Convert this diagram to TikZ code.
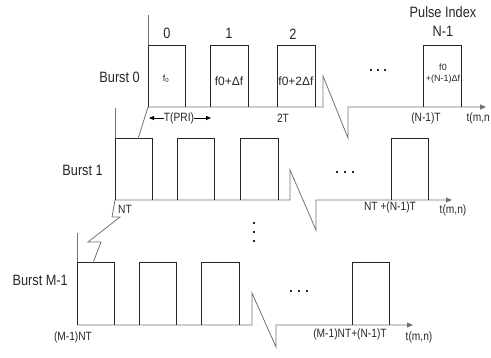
\documentclass[tikz,border=0pt]{standalone}
\usepackage{fontspec}
\setmainfont{Liberation Sans}[FakeStretch=0.85]
\newfontfamily\plainsans{Liberation Sans}
\usetikzlibrary{arrows.meta}
\begin{document}
\begin{tikzpicture}[x=1pt,y=-1pt,
  axis/.style={draw=black!55, line width=0.8pt},
  pulse/.style={draw=black!85, line width=1pt},
  big/.style={font=\fontsize{15}{16}\selectfont, inner sep=0pt, text=black!85},
  small/.style={font=\fontsize{12}{13}\selectfont, inner sep=0pt, text=black!85},
  plab/.style={font=\plainsans\fontsize{12}{13}\selectfont, inner sep=0pt, text=black!85},
  tiny/.style={font=\plainsans\fontsize{9}{10}\selectfont, inner sep=0pt, text=black!85},
  tip/.style={-{Triangle[length=6pt,width=5pt]}, draw=black!55, line width=0.8pt},
  dotf/.style={fill=black!85}]
\useasboundingbox (0,0) rectangle (491,358);

% ---------- Burst 0 ----------
\coordinate (o0) at (148,107);
\draw[axis] (148,15) -- (o0);
\draw[tip] (o0) -- (323,107) -- (323,76) -- (348,138) -- (348,107) -- (486,107);
\foreach \a/\b in {148/185,210/248,277/315,423/461}
  \draw[pulse] (\a,107) |- (\b,46) -- (\b,107);

% ---------- Burst 1 ----------
\coordinate (o1) at (115,200);
\coordinate (l1) at (138,139);
\draw[axis] (115,108) -- (o1);
\draw[tip] (o1) -- (290,200) -- (290,170) -- (316,230) -- (316,200) -- (452,200);
\foreach \a/\b in {115/152,177/214,240/278,391/428}
  \draw[pulse] (\a,200) |- (\b,139) -- (\b,200);
\draw[axis] (o0) -- (l1);

% ---------- Burst M-1 ----------
\coordinate (o2) at (77,325);
\coordinate (l2) at (93,263);
\draw[axis] (77,233) -- (o2);
\draw[tip] (o2) -- (252,325) -- (252,293) -- (276,347) -- (276,325) -- (413,325);
\foreach \a/\b in {77/114,139/176,201/239,352/389}
  \draw[pulse] (\a,325) |- (\b,263) -- (\b,325);
\draw[axis] (o1) -- (112,217) -- (120,217) -- (88,242) -- (101,242) -- (l2);

% ---------- labels, burst 0 ----------
\node[big] (i0) at (167,33) {0};
\node[big] (i1) at (229,33) {1};
\node[big] (i2) at (293,34) {2};
\node[big] (pi) at (443,12) {Pulse Index};
\node[big] (pn) at (443,31) {N-1};
\node[big,anchor=east] (b0) at (140,77) {Burst 0};
\node[tiny] (f0) at (166,79) {f\textsubscript{0}};
\node[plab] (f1) at (229,81) {f0+Δf};
\node[plab] (f2) at (296,81) {f0+2Δf};
\node[tiny] (fn1) at (443,67) {f0};
\node[tiny] (fn2) at (443,79) {+(N-1)Δf};
\node[small] (tpri) at (179,118) {T(PRI)};
\coordinate (ta) at (149,118);
\coordinate (tb) at (211,118);
\draw[-{Triangle[length=5pt,width=4pt]}, line width=0.8pt] (tpri.west) -- (ta);
\draw[-{Triangle[length=5pt,width=4pt]}, line width=0.8pt] (tpri.east) -- (tb);
\node[small] (t2) at (283,118) {2T};
\node[small] (tn) at (426,118) {(N-1)T};
\node[small,anchor=east] (ax0) at (490,118) {t(m,n};

% ---------- labels, burst 1 ----------
\node[big,anchor=east] (b1) at (103,170) {Burst 1};
\node[small] (nt) at (125,209) {NT};
\node[small] (ntn) at (390,207) {NT +(N-1)T};
\node[small] (ax1) at (453,210) {t(m,n)};

% ---------- labels, burst M-1 ----------
\node[big,anchor=east] (b2) at (68,280) {Burst M-1};
\node[small] (mnt) at (73,337) {(M-1)NT};
\node[small] (mntn) at (350,334) {(M-1)NT+(N-1)T};
\node[small] (ax2) at (419,337) {t(m,n)};

% ---------- ellipses ----------
\foreach \x in {371,378,385} \fill[dotf] (\x-1.3,68.7) rectangle (\x+1.3,71.3);
\foreach \x in {337,345,353} \fill[dotf] (\x-1.3,170.7) rectangle (\x+1.3,173.3);
\foreach \x in {291,299,307} \fill[dotf] (\x-1.3,289.7) rectangle (\x+1.3,292.3);
\foreach \y in {223,232,241} \fill[dotf] (252.7,\y-1.3) rectangle (255.3,\y+1.3);
\end{tikzpicture}
\end{document}
